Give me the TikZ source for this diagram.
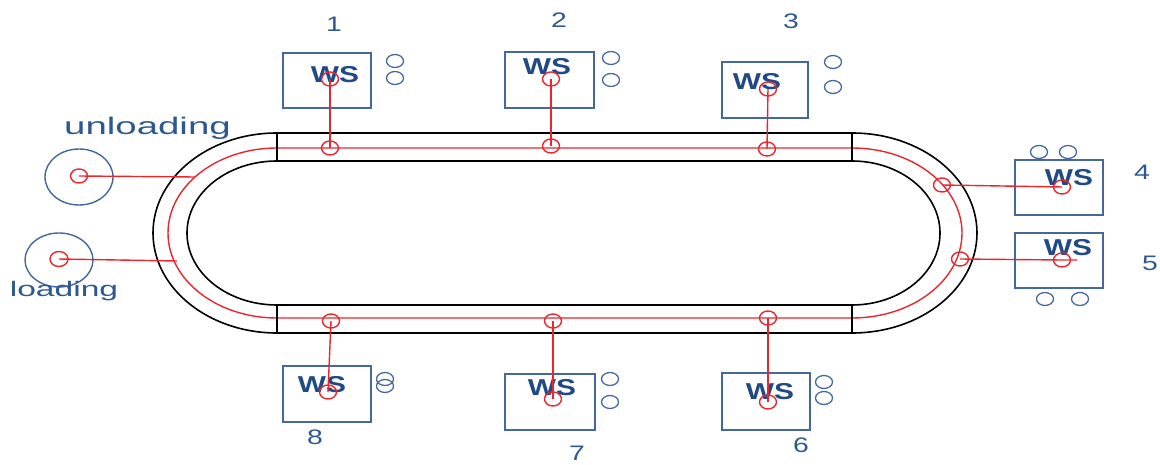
\documentclass[tikz,border=0pt]{standalone}
\usepackage{fontspec}
\usepackage{graphicx}
\setmainfont{Liberation Sans}
\usetikzlibrary{shapes.geometric}
\definecolor{boxblue}{HTML}{44679E}
\definecolor{wsblue}{HTML}{1F4A85}
\definecolor{numblue}{HTML}{2D5890}
\definecolor{trackred}{HTML}{E8262D}
\newcommand{\wstext}{\fontsize{23}{23}\selectfont\bfseries\scalebox{1.3}[1]{WS}}
\newcommand{\numtext}[1]{\fontsize{21}{21}\selectfont\scalebox{1.35}[1]{#1}}
\begin{document}
\begin{tikzpicture}[x=1pt,y=-1pt,
  track/.style={draw=black, line width=1.6pt},
  redtrack/.style={draw=trackred, line width=1.4pt},
  wsbox/.style={draw=boxblue, line width=1.6pt, rectangle, minimum width=88pt, minimum height=55pt, inner sep=0pt},
  wslabel/.style={text=wsblue, inner sep=0pt},
  numlabel/.style={text=numblue, inner sep=0pt},
  smallc/.style={draw=boxblue, line width=1.3pt, ellipse, minimum width=17pt, minimum height=13pt, inner sep=0pt},
  redc/.style={draw=trackred, line width=1.4pt, ellipse, minimum width=17pt, minimum height=14pt, inner sep=0pt},
  link/.style={draw=trackred, line width=1.4pt},
  bigc/.style={draw=boxblue, line width=1.4pt, ellipse, minimum width=68pt, minimum height=56pt, inner sep=0pt}]
\useasboundingbox (0,0) rectangle (1160,465);
% track
\path[track] (277,133) -- (852,133) arc[start angle=-90,end angle=90,x radius=125,y radius=100] -- (277,333) arc[start angle=90,end angle=270,x radius=124,y radius=100] -- cycle;
\path[track] (277,161) -- (852,161) arc[start angle=-90,end angle=90,x radius=88,y radius=72] -- (277,305) arc[start angle=90,end angle=270,x radius=90,y radius=72] -- cycle;
\path[redtrack] (277,148) -- (852,148) arc[start angle=-90,end angle=90,x radius=110,y radius=85] -- (277,318) arc[start angle=90,end angle=270,x radius=109,y radius=85] -- cycle;
\path[track] (277,133) -- (277,161) (277,305) -- (277,333) (852,133) -- (852,161) (852,305) -- (852,333);
% boxes
\node[wsbox, minimum width=88pt, minimum height=55pt] (b1) at (327,80.5) {};
\node[wsbox, minimum width=89pt, minimum height=56pt] (b2) at (549.5,80) {};
\node[wsbox, minimum width=86pt, minimum height=56pt] (b3) at (765,90) {};
\node[wsbox, minimum width=88pt, minimum height=55pt] (b4) at (1059,187.5) {};
\node[wsbox, minimum width=88pt, minimum height=55pt] (b5) at (1059,260.5) {};
\node[wsbox, minimum width=88pt, minimum height=57pt] (b6) at (766,401.5) {};
\node[wsbox, minimum width=90pt, minimum height=56pt] (b7) at (550,402) {};
\node[wsbox, minimum width=88pt, minimum height=56pt] (b8) at (327,394) {};
% WS labels
\node[wslabel] (w1) at (335,75) {\wstext};
\node[wslabel] (w2) at (547,67) {\wstext};
\node[wslabel] (w3) at (757,82) {\wstext};
\node[wslabel] (w4) at (1069,178) {\wstext};
\node[wslabel] (w5) at (1068,248) {\wstext};
\node[wslabel] (w6) at (770,392) {\wstext};
\node[wslabel] (w7) at (552,388) {\wstext};
\node[wslabel] (w8) at (322,385) {\wstext};
% numbers
\node[numlabel] (n1) at (334,24) {\numtext{1}};
\node[numlabel] (n2) at (559,20) {\numtext{2}};
\node[numlabel] (n3) at (791,21) {\numtext{3}};
\node[numlabel] (n4) at (1142,172) {\numtext{4}};
\node[numlabel] (n5) at (1150,263) {\numtext{5}};
\node[numlabel] (n6) at (801,445) {\numtext{6}};
\node[numlabel] (n7) at (577,453) {\numtext{7}};
\node[numlabel] (n8) at (315,437) {\numtext{8}};
% small circles
\node[smallc] (s1a) at (395,61) {};
\node[smallc] (s1b) at (395,78) {};
\node[smallc] (s2a) at (611,58) {};
\node[smallc] (s2b) at (611,80) {};
\node[smallc] (s3a) at (833,62) {};
\node[smallc] (s3b) at (833,87) {};
\node[smallc] (s4a) at (1039,152) {};
\node[smallc] (s4b) at (1068,152) {};
\node[smallc] (s5a) at (1045,299) {};
\node[smallc] (s5b) at (1080,299) {};
\node[smallc] (s6a) at (824,382) {};
\node[smallc] (s6b) at (824,398) {};
\node[smallc] (s7a) at (610,379) {};
\node[smallc] (s7b) at (610,402) {};
\node[smallc] (s8a) at (385,379) {};
\node[smallc] (s8b) at (385,386) {};
% unloading / loading stations
\node[bigc] (u) at (79,177) {};
\node[bigc, minimum height=54pt] (l) at (59,260) {};
\node[text=numblue, inner sep=0pt, anchor=base] (ut) at (147.5,135) {\fontsize{24}{24}\selectfont\scalebox{1.6}[1]{unloading}};
\node[text=numblue, inner sep=0pt, anchor=base] (lt) at (64,297) {\fontsize{21}{21}\selectfont\scalebox{1.6}[1]{loading}};
% red circles at stations
\node[redc] (r1) at (330,79) {};
\node[redc] (r2) at (551,79) {};
\node[redc] (r3) at (768,89) {};
\node[redc] (r4) at (1062,187) {};
\node[redc] (r5) at (1062,260) {};
\node[redc] (r6) at (768,402) {};
\node[redc] (r7) at (553,399) {};
\node[redc] (r8) at (328,392) {};
\node[redc] (ru) at (79,176) {};
\node[redc, minimum width=18pt, minimum height=15pt] (rl) at (59,259) {};
% red circles on track
\node[redc] (t1) at (330,148) {};
\node[redc] (t2) at (551,146) {};
\node[redc] (t3) at (767,149) {};
\node[redc] (t4) at (942,185) {};
\node[redc] (t5) at (960,259) {};
\node[redc] (t6) at (768,318) {};
\node[redc] (t7) at (553,321) {};
\node[redc] (t8) at (331,321) {};
\coordinate (tu) at (195,177);
\coordinate (tl) at (177,261);
\coordinate (e5) at (1077,260);
% links
\path[link] (r1.center) -- (t1.center);
\path[link] (r2.center) -- (t2.center);
\path[link] (r3.center) -- (t3.center);
\path[link] (t4.center) -- (r4.center);
\path[link] (t5.center) -- (r5.center) -- (e5);
\path[link] (t6.center) -- (r6.center);
\path[link] (t7.center) -- (r7.center);
\path[link] (t8.center) -- (r8.center);
\path[link] (ru.center) -- (tu);
\path[link] (rl.center) -- (tl);
\end{tikzpicture}
\end{document}
